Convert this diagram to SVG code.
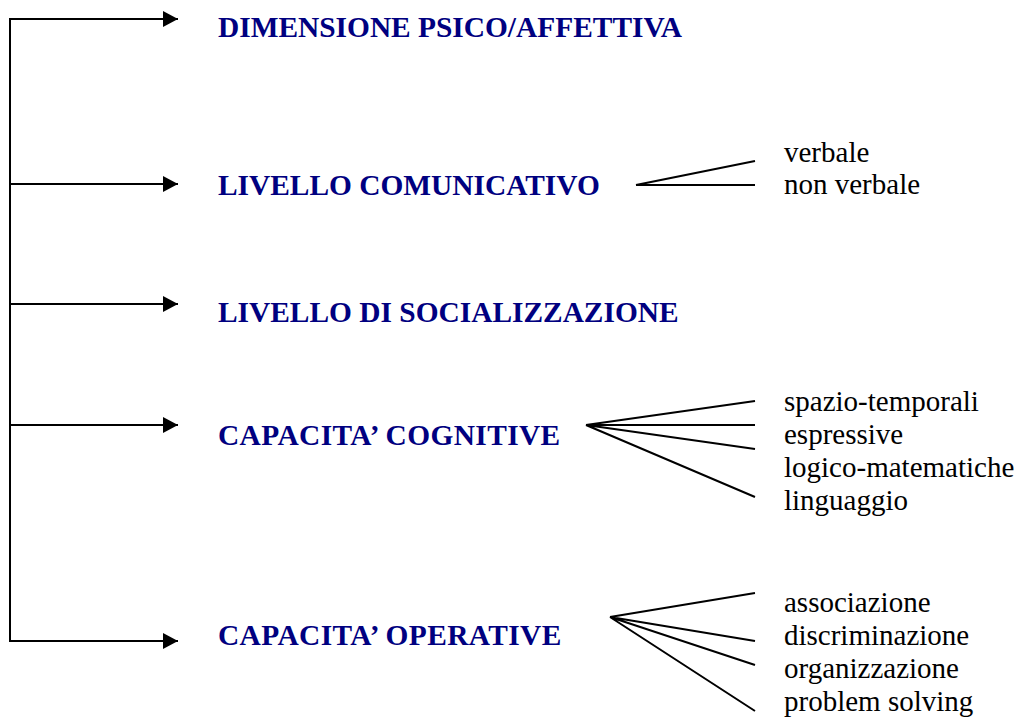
<svg xmlns="http://www.w3.org/2000/svg" width="1020" height="717" viewBox="0 0 1020 717">
<style>
.h{font-family:"Liberation Serif",serif;font-weight:bold;font-size:29.4px;fill:#000080}
.c{letter-spacing:0.4px}
.s{font-family:"Liberation Serif",serif;font-size:29px;fill:#000}
.ln{stroke:#000;stroke-width:2;fill:none}
</style>
<defs>
<marker id="ah" markerWidth="16" markerHeight="16" refX="15" refY="8" orient="auto" markerUnits="userSpaceOnUse">
<path d="M0,0 L15,8 L0,16 Z" fill="#000"/>
</marker>
</defs>
<rect width="1020" height="717" fill="#fff"/>
<g id="connectors">
<line class="ln" x1="10" y1="18" x2="10" y2="642"/>
<line class="ln" x1="9" y1="19" x2="178" y2="19" marker-end="url(#ah)"/>
<line class="ln" x1="9" y1="184" x2="178" y2="184" marker-end="url(#ah)"/>
<line class="ln" x1="9" y1="304" x2="178" y2="304" marker-end="url(#ah)"/>
<line class="ln" x1="9" y1="425" x2="178" y2="425" marker-end="url(#ah)"/>
<line class="ln" x1="9" y1="641" x2="178" y2="641" marker-end="url(#ah)"/>
<path class="ln" d="M636,185 L755,161 M636,185 L755,185"/>
<path class="ln" d="M586,425 L755,401 M586,425 L755,425 M586,425 L755,449 M586,425 L755,497"/>
<path class="ln" d="M610,617 L755,593 M610,617 L755,641 M610,617 L755,665 M610,617 L755,711"/>
</g>
<g id="n1"><text class="h" x="218" y="37">DIMENSIONE PSICO/AFFETTIVA</text></g>
<g id="n2"><text class="h" x="218" y="195">LIVELLO COMUNICATIVO</text>
<text class="s" x="784" y="162">verbale</text><text class="s" x="784" y="194">non verbale</text></g>
<g id="n3"><text class="h" x="218" y="322">LIVELLO DI SOCIALIZZAZIONE</text></g>
<g id="n4"><text class="h c" x="218" y="445">CAPACITA’ COGNITIVE</text>
<text class="s" x="784" y="411">spazio-temporali</text><text class="s" x="784" y="444">espressive</text><text class="s" x="784" y="477">logico-matematiche</text><text class="s" x="784" y="510">linguaggio</text></g>
<g id="n5"><text class="h c" x="218" y="645">CAPACITA’ OPERATIVE</text>
<text class="s" x="784" y="612">associazione</text><text class="s" x="784" y="645">discriminazione</text><text class="s" x="784" y="678">organizzazione</text><text class="s" x="784" y="711">problem solving</text></g>
</svg>
